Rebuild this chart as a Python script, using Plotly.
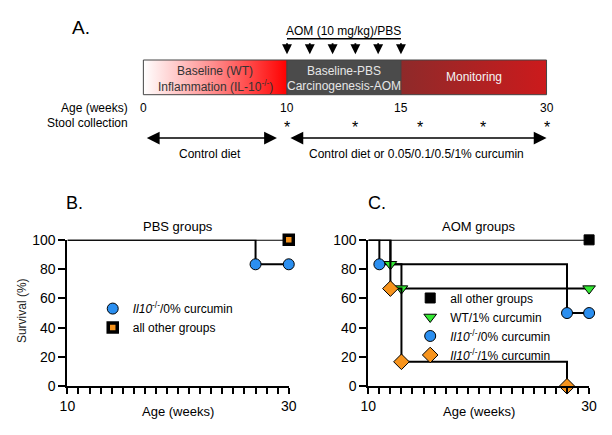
import numpy as np
import plotly.graph_objects as go

# ---------------- Panel A (study schematic) ----------------
phase_bounds = [0, 10, 15, 30]                      # weeks
phase_text = [["Baseline (WT)", "Inflammation (IL-10<sup>-/-</sup>)"],
              ["Baseline-PBS", "Carcinogenesis-AOM"],
              ["Monitoring"]]
age_ticks = [0, 10, 15, 30]
aom_weeks = [10, 11, 12, 13, 14, 15]
stool_weeks = [10, 13, 17, 23.5, 30]
diet_spans = [[0, 9.3], [10, 30]]
diet_labels = ["Control diet", "Control diet or 0.05/0.1/0.5/1% curcumin"]

# ---------------- Panel B (PBS groups) ----------------
pbs_il10_0_x = [10, 27, 30]
pbs_il10_0_y = [100, 83.3, 83.3]
pbs_other_x = [10, 30]
pbs_other_y = [100, 100]

# ---------------- Panel C (AOM groups) ----------------
aom_other_x = [10, 30]
aom_other_y = [100, 100]
aom_wt1_x = [10, 12, 13, 30]
aom_wt1_y = [100, 83.3, 66.7, 66.7]
aom_il10_0_x = [10, 11, 28, 30]
aom_il10_0_y = [100, 83.3, 50, 50]
aom_il10_1_x = [10, 12, 13, 28]
aom_il10_1_y = [100, 66.7, 16.7, 0]

week_ticks = list(range(10, 31))
week_labels = {10: "10", 30: "30"}
surv_ticks = [0, 20, 40, 60, 80, 100]

# ---------------- layout helpers ----------------
W, H = 612, 435
FONT = "Arial, Liberation Sans, sans-serif"
SCHEME_PX = [139, 286.5, 403.5, 553]   # schematic is not drawn to scale


def sx(w):
    return float(np.interp(w, phase_bounds, SCHEME_PX))


def py(p):
    return 1 - p / H


BLUE = "#2b8ff0"
GREEN = "#33e833"
ORANGE = "#f7941d"

fig = go.Figure()

# ---- Panel A boxes ----
box_top, box_bot = 54, 90
fills = [dict(fillgradient=dict(type="horizontal",
                                colorscale=[[0, "#ffffff"], [0.5, "#ff8a8a"], [1, "#ff0000"]])),
         dict(fillcolor="#4b4b4b"),
         dict(fillgradient=dict(type="horizontal",
                                colorscale=[[0, "#8e2a2a"], [1, "#cc1a1c"]]))]
for i in range(3):
    x0, x1 = sx(phase_bounds[i]), sx(phase_bounds[i + 1])
    fig.add_trace(go.Scatter(x=[x0, x1, x1, x0, x0],
                             y=[box_top, box_top, box_bot, box_bot, box_top],
                             mode="lines", fill="toself",
                             line=dict(color="#444444", width=1),
                             xaxis="x3", yaxis="y3", showlegend=False,
                             hoverinfo="skip", **fills[i]))

annotations = []
text_cols = ["#333333", "#e6e6e6", "#f4f4f4"]
for i, lines in enumerate(phase_text):
    cx = (sx(phase_bounds[i]) + sx(phase_bounds[i + 1])) / 2
    ys = [72] if len(lines) == 1 else [65, 81]
    for t, yy in zip(lines, ys):
        annotations.append(dict(x=cx, y=yy, xref="x3", yref="y3", text=t, showarrow=False,
                                xanchor="center", yanchor="middle",
                                font=dict(size=12, color=text_cols[i])))

# AOM injections
annotations.append(dict(x=(sx(aom_weeks[0]) + sx(aom_weeks[-1])) / 2, y=24, xref="x3", yref="y3",
                        text="AOM (10 mg/kg)/PBS", showarrow=False, xanchor="center",
                        yanchor="middle", font=dict(size=12)))
for w in aom_weeks:
    annotations.append(dict(x=sx(w), y=48, ax=sx(w), ay=35, xref="x3", yref="y3",
                            axref="x3", ayref="y3", text="", showarrow=True,
                            arrowhead=2, arrowsize=1.1, arrowwidth=1.8, arrowcolor="black"))
shapes = [dict(type="line", xref="x3", yref="y3", x0=sx(aom_weeks[0]), x1=sx(aom_weeks[-1]),
               y0=32, y1=32, line=dict(color="black", width=1.5))]

# Age row
annotations.append(dict(x=125 / W, y=104, xref="paper", yref="y3", text="Age (weeks)",
                        showarrow=False, xanchor="right", yanchor="middle", font=dict(size=12)))
for a in age_ticks:
    annotations.append(dict(x=sx(a), y=104, xref="x3", yref="y3", text=str(a),
                            showarrow=False, xanchor="center", yanchor="middle",
                            font=dict(size=12)))
# Stool row
annotations.append(dict(x=125 / W, y=119, xref="paper", yref="y3", text="Stool collection",
                        showarrow=False, xanchor="right", yanchor="middle", font=dict(size=12)))
for s in stool_weeks:
    annotations.append(dict(x=sx(s), y=124, xref="x3", yref="y3", text="*",
                            showarrow=False, xanchor="center", yanchor="middle",
                            font=dict(size=16)))
# Diet arrows
for (a0, a1), lab in zip(diet_spans, diet_labels):
    annotations.append(dict(x=sx(a1), y=135, ax=sx(a0) + 2, ay=135, xref="x3", yref="y3",
                            axref="x3", ayref="y3", text="", showarrow=True,
                            arrowside="end+start", arrowhead=2, arrowsize=1.6,
                            arrowwidth=1.6, arrowcolor="black"))
    annotations.append(dict(x=(sx(a0) + sx(a1)) / 2, y=152, xref="x3", yref="y3", text=lab,
                            showarrow=False, xanchor="center", yanchor="middle",
                            font=dict(size=12)))

# ---------------- Survival panels ----------------
def km(x, y, color, symbol, name, xa, ya, legend, size=10, mline=1, rank=1):
    fig.add_trace(go.Scatter(x=x, y=y, mode="lines", line=dict(color="black", width=2, shape="hv"),
                             xaxis=xa, yaxis=ya, showlegend=False, hoverinfo="skip",
                             cliponaxis=False))
    fig.add_trace(go.Scatter(x=x[1:], y=y[1:], mode="markers", name=name,
                             marker=dict(symbol=symbol, size=size, color=color,
                                         line=dict(color="black", width=mline)),
                             xaxis=xa, yaxis=ya, legend=legend, legendrank=rank,
                             cliponaxis=False))


IL10 = "<i>Il10</i><sup>-/-</sup>"
# Panel B
km(pbs_other_x, pbs_other_y, ORANGE, "square", "all other groups", "x", "y", "legend",
   size=9, mline=3.5, rank=2)
km(pbs_il10_0_x, pbs_il10_0_y, BLUE, "circle", IL10 + "/0% curcumin", "x", "y", "legend",
   size=11, rank=1)
# Panel C
km(aom_other_x, aom_other_y, "black", "square", "all other groups", "x2", "y2", "legend2",
   size=10, rank=1)
km(aom_il10_0_x, aom_il10_0_y, BLUE, "circle", IL10 + "/0% curcumin", "x2", "y2", "legend2",
   size=11, rank=3)
km(aom_wt1_x, aom_wt1_y, GREEN, "triangle-down", "WT/1% curcumin", "x2", "y2", "legend2",
   size=11, rank=2)
km(aom_il10_1_x, aom_il10_1_y, ORANGE, "diamond", IL10 + "/1% curcumin", "x2", "y2", "legend2",
   size=12, rank=4)

xaxis_common = dict(range=[10, 30], tickvals=week_ticks,
                    ticktext=[week_labels.get(t, "") for t in week_ticks],
                    ticks="outside", ticklen=6, tickwidth=1.5, tickcolor="black",
                    showline=True, linewidth=2, linecolor="black", showgrid=False,
                    zeroline=False, tickfont=dict(size=14, color="black"), fixedrange=True)
yaxis_common = dict(range=[0, 100], tickvals=surv_ticks, ticks="outside", ticklen=7,
                    tickwidth=1.5, tickcolor="black", showline=True, linewidth=2,
                    linecolor="black", showgrid=False, zeroline=False,
                    tickfont=dict(size=14, color="black"), fixedrange=True)

yd = [py(392.7), py(240.7)]
bx = [61 / W, 288.3 / W]
cx_ = [370 / W, 596.7 / W]

# panel titles / axis titles / letters
for dom, title in [(bx, "PBS groups"), (cx_, "AOM groups")]:
    mid = (dom[0] + dom[1]) / 2
    annotations.append(dict(x=mid, y=py(227), xref="paper", yref="paper", text=title,
                            xanchor="center", yanchor="middle", showarrow=False,
                            font=dict(size=13)))
    annotations.append(dict(x=mid, y=py(419), xref="paper", yref="paper", text="Age (weeks)",
                            xanchor="center", yanchor="middle", showarrow=False,
                            font=dict(size=13)))
annotations.append(dict(x=15 / W, y=py(314), xref="paper", yref="paper", text="Survival (%)",
                        textangle=-90, xanchor="center", yanchor="middle", showarrow=False,
                        font=dict(size=12, color="#222")))
for lx, ly, lt, fs in [(64 / W, 20, "A.", 19), (57 / W, 202, "B.", 18), (368 / W, 202, "C.", 18)]:
    annotations.append(dict(x=lx, y=py(ly), xref="paper", yref="paper", text=lt,
                            xanchor="left", yanchor="middle", showarrow=False,
                            font=dict(size=fs)))

fig.update_layout(
    width=W, height=H, margin=dict(l=0, r=0, t=0, b=0),
    paper_bgcolor="white", plot_bgcolor="rgba(0,0,0,0)",
    font=dict(family=FONT, color="black", size=12),
    xaxis=dict(domain=bx, anchor="y", **xaxis_common),
    yaxis=dict(domain=yd, anchor="x", **yaxis_common),
    xaxis2=dict(domain=cx_, anchor="y2", **xaxis_common),
    yaxis2=dict(domain=yd, anchor="x2", **yaxis_common),
    xaxis3=dict(domain=[0, 1], range=[0, W], visible=False, anchor="y3", fixedrange=True),
    yaxis3=dict(domain=[0, 1], range=[H, 0], visible=False, anchor="x3", fixedrange=True),
    legend=dict(x=87 / W, y=py(297), xanchor="left", yanchor="top",
                bgcolor="rgba(0,0,0,0)", font=dict(size=12), tracegroupgap=0),
    legend2=dict(x=413 / W, y=py(286), xanchor="left", yanchor="top",
                 bgcolor="rgba(0,0,0,0)", font=dict(size=12), tracegroupgap=0),
    annotations=annotations, shapes=shapes,
    showlegend=True,
)

fig.write_html("out.html", config={"displayModeBar": False},
               post_script="document.body.style.margin='0px';")
